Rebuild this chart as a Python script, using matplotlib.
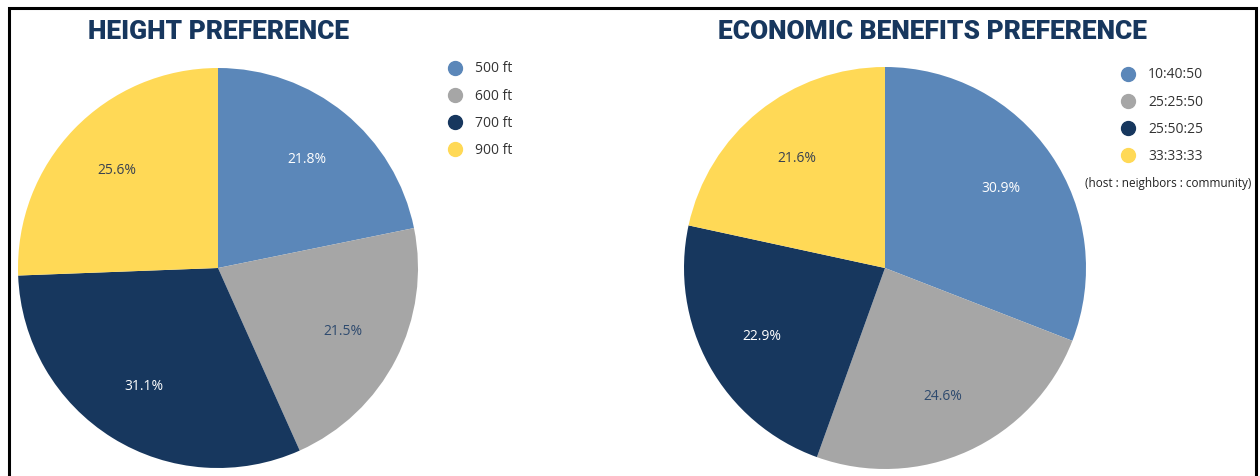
import matplotlib.pyplot as plt
from matplotlib.lines import Line2D
from matplotlib.patches import Rectangle

# ----------------------------- data -----------------------------
height_labels = ["500 ft", "600 ft", "700 ft", "900 ft"]
height_pct = [21.8, 21.5, 31.1, 25.6]

econ_labels = ["10:40:50", "25:25:50", "25:50:25", "33:33:33"]
econ_pct = [30.9, 24.6, 22.9, 21.6]

colors = ["#5B87B9", "#A6A6A6", "#17375E", "#FFD956"]
pct_colors = ["white", "#2E4A6E", "white", "#3A4250"]
navy = "#17375E"

W, H = 1260, 476
fig = plt.figure(figsize=(W / 100, H / 100), dpi=100)


def px_axes(x0, y0, w, h):
    # pixel box (top-left origin) -> figure fraction
    return fig.add_axes([x0 / W, 1 - (y0 + h) / H, w / W, h / H])


def draw_pie(ax, vals):
    wedges, _, autotexts = ax.pie(vals, colors=colors, startangle=90, counterclock=False,
                                  autopct="%.1f%%", pctdistance=0.7, radius=1,
                                  textprops=dict(fontsize=10, family=["Open Sans", "DejaVu Sans"]))
    for t, c in zip(autotexts, pct_colors):
        t.set_color(c)
    ax.set_xlim(-1, 1)
    ax.set_ylim(-1, 1)
    ax.set_aspect("equal")
    ax.axis("off")


def make_legend(labels, anchor):
    handles = [Line2D([], [], marker="o", ls="", markersize=10, markerfacecolor=c,
                      markeredgecolor=c) for c in colors]
    fig.legend(handles, labels, loc="upper left", bbox_to_anchor=anchor, frameon=False,
               handletextpad=0.9, labelspacing=0.88, handlelength=1.0,
               prop=dict(family=["Open Sans", "DejaVu Sans"], size=10), labelcolor="#333333")


ax1 = px_axes(18, 68, 400, 400)
draw_pie(ax1, height_pct)
ax2 = px_axes(684, 67, 402, 402)
draw_pie(ax2, econ_pct)

make_legend(height_labels, (436 / W, 1 - 49 / H))
make_legend(econ_labels, (1109 / W, 1 - 55 / H))
fig.text(1168 / W, 1 - 183 / H, "(host : neighbors : community)", ha="center", va="center",
         fontsize=8.5, color="#222222", family=["Open Sans", "DejaVu Sans"])

title_font = dict(fontsize=19, fontweight="black", color=navy, ha="center", va="center",
                  family=["Roboto", "DejaVu Sans"])
fig.text(219 / W, 1 - 32 / H, "HEIGHT PREFERENCE", **title_font)
fig.text(933 / W, 1 - 32 / H, "ECONOMIC BENEFITS PREFERENCE", **title_font)

# outer frame (bottom edge falls outside the picture)
fig.add_artist(Rectangle((9 / W, -0.1), (1256 - 9) / W, 1.1 - 8 / H, transform=fig.transFigure,
                         fill=False, edgecolor="black", linewidth=2.2))

fig.savefig("out.png", dpi=100)
